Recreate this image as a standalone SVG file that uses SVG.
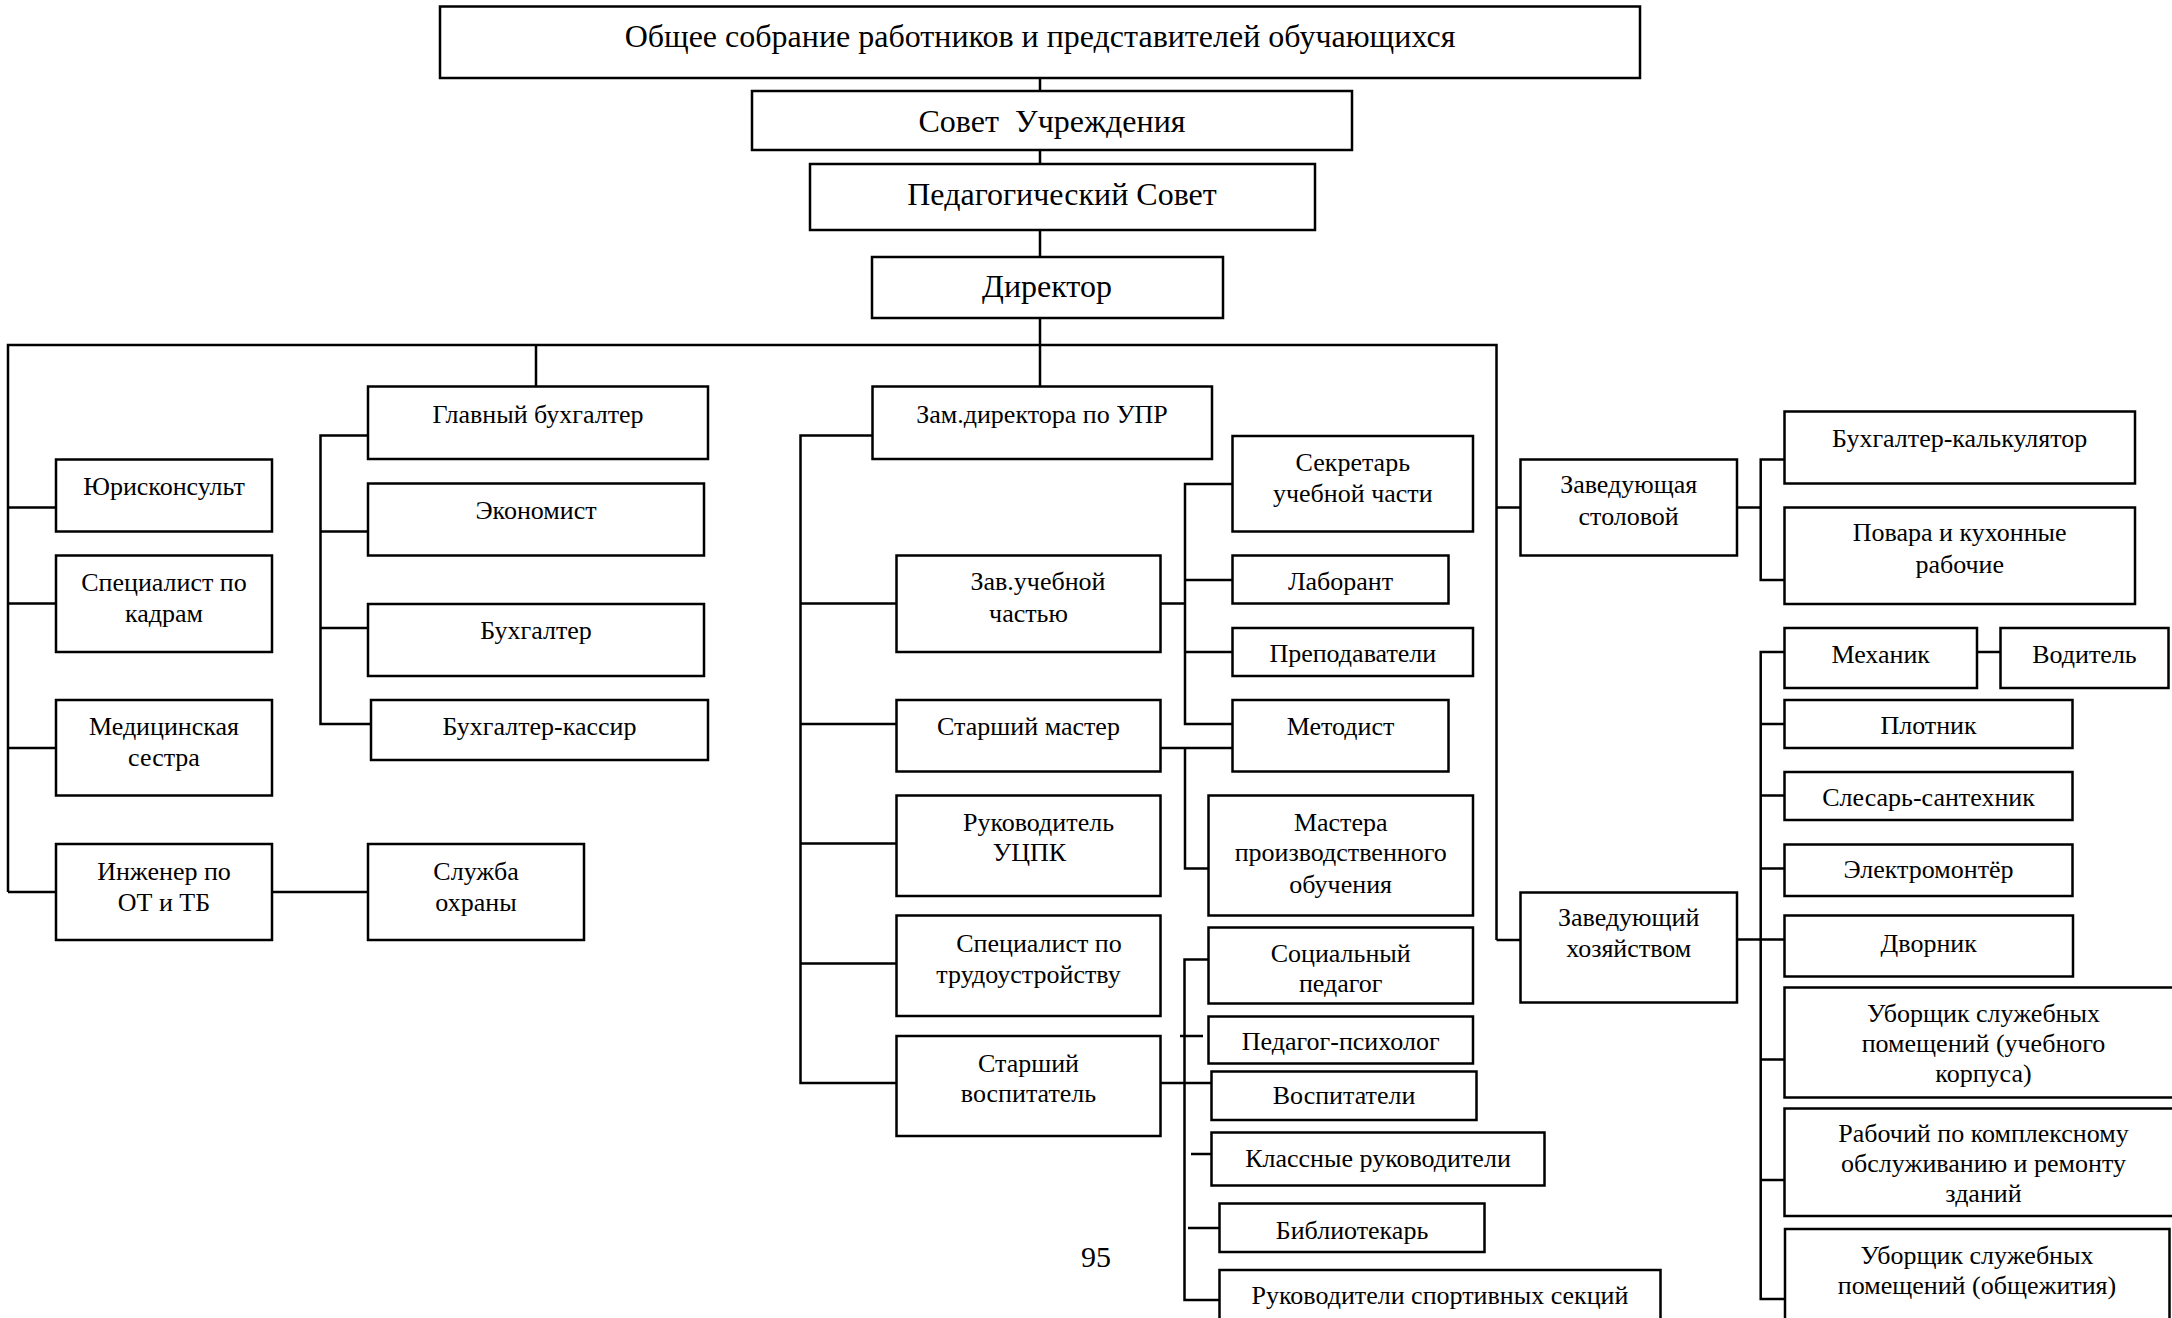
<svg xmlns="http://www.w3.org/2000/svg" width="2172" height="1318" viewBox="0 0 2172 1318">
<style>
.box{fill:#fff;stroke:#000;stroke-width:2.5}
.c{fill:none;stroke:#000;stroke-width:2.5}
text{font-family:"Liberation Serif","Times New Roman",serif;fill:#000;text-anchor:middle}
.t1{font-size:32px}
.t2{font-size:26px}
.pg{font-size:30px}
</style>
<rect width="2172" height="1318" fill="#fff"/>
<g id="connectors">
<path class="c" d="M1040,71V91 M1040,150V164 M1040,230V257 M1040,318V387"/>
<path class="c" d="M8,892V345H1496.5V940 M536,345V387"/>
<path class="c" d="M8,507.5H56 M8,603.5H56 M8,748H56 M8,892H56 M272,892H368"/>
<path class="c" d="M368,435.5H320.5V724H371 M320.5,531.5H368 M320.5,628H368"/>
<path class="c" d="M872.5,435.5H800.5V1083H896.5 M800.5,603.5H896.5 M800.5,724H896.5 M800.5,843.5H896.5 M800.5,963.5H896.5"/>
<path class="c" d="M1160.5,603.5H1185 M1232.5,484H1185V724H1232.5 M1185,580H1232.5 M1185,652H1232.5"/>
<path class="c" d="M1160.5,748H1232.5 M1185,748V868.5H1208.5"/>
<path class="c" d="M1208.5,959.5H1184.5V1300H1219.5 M1180,1036H1203 M1160.5,1083H1211.5 M1191,1154H1211.5 M1188,1228H1219.5"/>
<path class="c" d="M1496.5,507.5H1520.5 M1496.5,940H1520.5"/>
<path class="c" d="M1736.8,507.5H1760.7 M1784.5,459.5H1760.7V580H1784.5"/>
<path class="c" d="M1736.8,939.5H1784.5 M1784.5,652H1760.7V1299H1785 M1977,652H2000.5 M1760.7,724H1784.5 M1760.7,795.5H1784.5 M1760.7,868.5H1784.5 M1760.7,1059.5H1784.5 M1760.7,1180H1784.5"/>
</g>
<g id="n-general"><rect class="box" x="440" y="6.5" width="1200" height="71.5"/><text class="t1" x="1040" y="47">Общее собрание работников и представителей обучающихся</text></g>
<g id="n-council"><rect class="box" x="752" y="91" width="600" height="59"/><text class="t1" x="1052" y="132">Совет&#160; Учреждения</text></g>
<g id="n-pedcouncil"><rect class="box" x="810" y="164" width="505" height="66"/><text class="t1" x="1062" y="205">Педагогический Совет</text></g>
<g id="n-director"><rect class="box" x="872" y="257" width="351" height="61"/><text class="t1" x="1047" y="297">Директор</text></g>

<g id="n-legal"><rect class="box" x="56" y="459.5" width="216" height="72"/><text class="t2" x="164" y="495">Юрисконсульт</text></g>
<g id="n-hr"><rect class="box" x="56" y="555.5" width="216" height="96.5"/><text class="t2" x="164" y="591">Специалист по</text><text class="t2" x="164" y="622">кадрам</text></g>
<g id="n-nurse"><rect class="box" x="56" y="700" width="216" height="95.5"/><text class="t2" x="164" y="734.5">Медицинская</text><text class="t2" x="164" y="766">сестра</text></g>
<g id="n-safety"><rect class="box" x="56" y="844" width="216" height="96"/><text class="t2" x="164" y="879.5">Инженер по</text><text class="t2" x="164" y="910.5">ОТ и ТБ</text></g>
<g id="n-security"><rect class="box" x="368" y="844" width="216" height="96"/><text class="t2" x="476" y="879.5">Служба</text><text class="t2" x="476" y="910.5">охраны</text></g>

<g id="n-chiefacc"><rect class="box" x="368" y="386.5" width="340" height="72.5"/><text class="t2" x="538" y="422.5">Главный бухгалтер</text></g>
<g id="n-economist"><rect class="box" x="368" y="483.5" width="336" height="72"/><text class="t2" x="536" y="519">Экономист</text></g>
<g id="n-accountant"><rect class="box" x="368" y="604" width="336" height="72"/><text class="t2" x="536" y="639">Бухгалтер</text></g>
<g id="n-cashier"><rect class="box" x="371" y="700" width="337" height="60"/><text class="t2" x="539.5" y="735">Бухгалтер-кассир</text></g>

<g id="n-deputy"><rect class="box" x="872.5" y="386.5" width="339.5" height="72.5"/><text class="t2" x="1042" y="422.5">Зам.директора по УПР</text></g>
<g id="n-headstudy"><rect class="box" x="896.5" y="555.5" width="264" height="96.5"/><text class="t2" x="1038" y="590">Зав.учебной</text><text class="t2" x="1028.5" y="622">частью</text></g>
<g id="n-seniormaster"><rect class="box" x="896.5" y="700" width="264" height="71.5"/><text class="t2" x="1028.5" y="735">Старший мастер</text></g>
<g id="n-uczpk"><rect class="box" x="896.5" y="795.5" width="264" height="100.5"/><text class="t2" x="1038.5" y="830.5">Руководитель</text><text class="t2" x="1029.5" y="861">УЦПК</text></g>
<g id="n-employment"><rect class="box" x="896.5" y="915.5" width="264" height="100.5"/><text class="t2" x="1039" y="951.5">Специалист по</text><text class="t2" x="1028.5" y="983">трудоустройству</text></g>
<g id="n-seniorteacher"><rect class="box" x="896.5" y="1036" width="264" height="100"/><text class="t2" x="1028.5" y="1071.5">Старший</text><text class="t2" x="1028.5" y="1101.5">воспитатель</text></g>

<g id="n-secretary"><rect class="box" x="1232.5" y="436" width="240.5" height="95.5"/><text class="t2" x="1352.8" y="470.5">Секретарь</text><text class="t2" x="1352.8" y="502">учебной части</text></g>
<g id="n-lab"><rect class="box" x="1232.5" y="555.5" width="216" height="48"/><text class="t2" x="1340.5" y="590">Лаборант</text></g>
<g id="n-teachers"><rect class="box" x="1232.5" y="628" width="240.5" height="48"/><text class="t2" x="1352.8" y="662">Преподаватели</text></g>
<g id="n-methodist"><rect class="box" x="1232.5" y="700" width="216" height="71.5"/><text class="t2" x="1340.5" y="735">Методист</text></g>
<g id="n-masters"><rect class="box" x="1208.5" y="795.5" width="264.5" height="120"/><text class="t2" x="1340.7" y="830.5">Мастера</text><text class="t2" x="1340.7" y="861">производственного</text><text class="t2" x="1340.7" y="892.5">обучения</text></g>

<g id="n-social"><rect class="box" x="1208.5" y="927.5" width="264.5" height="76"/><text class="t2" x="1340.7" y="961.5">Социальный</text><text class="t2" x="1340.7" y="991.5">педагог</text></g>
<g id="n-psych"><rect class="box" x="1208.5" y="1016.5" width="264.5" height="47"/><text class="t2" x="1340.7" y="1050">Педагог-психолог</text></g>
<g id="n-educators"><rect class="box" x="1211.5" y="1071.5" width="265" height="48.5"/><text class="t2" x="1344" y="1104">Воспитатели</text></g>
<g id="n-classteachers"><rect class="box" x="1211.5" y="1132.5" width="333" height="53"/><text class="t2" x="1378" y="1167">Классные руководители</text></g>
<g id="n-librarian"><rect class="box" x="1219.5" y="1203.5" width="265" height="48.5"/><text class="t2" x="1352" y="1238.5">Библиотекарь</text></g>
<g id="n-sports"><rect class="box" x="1219.5" y="1270" width="441" height="70"/><text class="t2" x="1440" y="1304">Руководители спортивных секций</text></g>

<g id="n-canteen"><rect class="box" x="1520.5" y="459.5" width="216.5" height="96"/><text class="t2" x="1628.7" y="493">Заведующая</text><text class="t2" x="1628.7" y="524.5">столовой</text></g>
<g id="n-calc"><rect class="box" x="1784.5" y="411.5" width="350.5" height="72"/><text class="t2" x="1959.7" y="446.5">Бухгалтер-калькулятор</text></g>
<g id="n-cooks"><rect class="box" x="1784.5" y="507.5" width="350.5" height="96.5"/><text class="t2" x="1959.7" y="541">Повара и кухонные</text><text class="t2" x="1959.7" y="572.5">рабочие</text></g>

<g id="n-household"><rect class="box" x="1520.5" y="892.5" width="216.5" height="110"/><text class="t2" x="1628.7" y="926">Заведующий</text><text class="t2" x="1628.7" y="957">хозяйством</text></g>
<g id="n-mechanic"><rect class="box" x="1784.5" y="628" width="192.5" height="60"/><text class="t2" x="1880.7" y="663">Механик</text></g>
<g id="n-driver"><rect class="box" x="2000.5" y="628" width="168" height="60"/><text class="t2" x="2084.5" y="663">Водитель</text></g>
<g id="n-carpenter"><rect class="box" x="1784.5" y="700" width="288" height="48"/><text class="t2" x="1928.5" y="733.5">Плотник</text></g>
<g id="n-plumber"><rect class="box" x="1784.5" y="772" width="288" height="48"/><text class="t2" x="1928.5" y="805.5">Слесарь-сантехник</text></g>
<g id="n-electrician"><rect class="box" x="1784.5" y="844.5" width="288" height="51.5"/><text class="t2" x="1928.5" y="877.5">Электромонтёр</text></g>
<g id="n-janitor"><rect class="box" x="1784.5" y="915.5" width="288.5" height="61"/><text class="t2" x="1928.7" y="951.5">Дворник</text></g>
<g id="n-cleaner1"><rect class="box" x="1784.5" y="987.5" width="400" height="110"/><text class="t2" x="1983.5" y="1021.5">Уборщик служебных</text><text class="t2" x="1983.5" y="1051.5">помещений (учебного</text><text class="t2" x="1983.5" y="1081.5">корпуса)</text></g>
<g id="n-repair"><rect class="box" x="1784.5" y="1108.5" width="400" height="107.5"/><text class="t2" x="1983.5" y="1141.5">Рабочий по комплексному</text><text class="t2" x="1983.5" y="1171.5">обслуживанию и ремонту</text><text class="t2" x="1983.5" y="1201.5">зданий</text></g>
<g id="n-cleaner2"><rect class="box" x="1785" y="1229" width="384.5" height="120"/><text class="t2" x="1977" y="1263.5">Уборщик служебных</text><text class="t2" x="1977" y="1293.5">помещений (общежития)</text></g>

<text class="pg" x="1096" y="1267">95</text>
</svg>
